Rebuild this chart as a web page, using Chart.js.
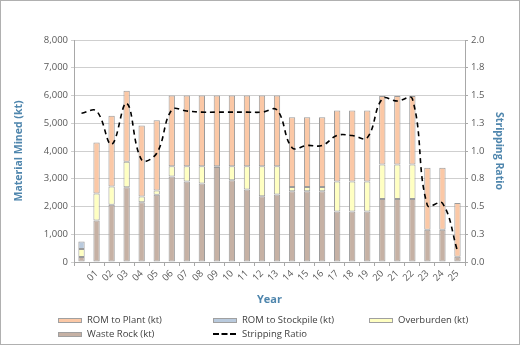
<!DOCTYPE html>
<html>
<head>
<meta charset="utf-8">
<script src="https://cdn.jsdelivr.net/npm/chart.js@4/dist/chart.umd.min.js"></script>
<style>
  body { margin: 0; background: #fff; }
  #wrap { position: relative; width: 520px; height: 345px; box-sizing: border-box; border: 1px solid #b0b0b0; font-family: "Open Sans", sans-serif; }
  #chart { position: absolute; left: 0; top: 0; }
  .lg { position: absolute; font-size: 9.5px; color: #404040; line-height: 12px; white-space: nowrap; }
  .lg .box { position: absolute; left: 0; top: 4px; width: 24px; height: 5px; box-sizing: border-box; border: 1px solid #a0a0a0; }
  .lg .dash { position: absolute; left: 0; top: 5px; width: 23px; height: 0; border-top: 2px dashed #000; }
  .lg span.t { position: absolute; left: 29px; top: 0; }
</style>
</head>
<body>
<div id="wrap">
  <canvas id="chart" width="520" height="345"></canvas>
</div>
<script>
// year labels (first column is pre-production, no label)
let years = ["", "01", "02", "03", "04", "05", "06", "07", "08", "09", "10", "11", "12", "13",
  "14", "15", "16", "17", "18", "19", "20", "21", "22", "23", "24", "25"];

let wasteRock = [180, 1500, 2060, 2690, 2150, 2420, 3080, 2900, 2830, 3420, 2950, 2610, 2370, 2430,
  2550, 2550, 2550, 1820, 1820, 1820, 2270, 2270, 2270, 1160, 1160, 190];
let overburden = [290, 970, 660, 920, 210, 160, 370, 550, 620, 30, 500, 840, 1080, 1020,
  150, 150, 150, 1080, 1080, 1080, 1240, 1240, 1240, 0, 0, 0];
let romStockpile = [265, 0, 0, 0, 0, 0, 0, 0, 0, 0, 0, 0, 0, 0,
  0, 0, 0, 0, 0, 0, 0, 0, 0, 0, 0, 0];
let romPlant = [0, 1840, 2550, 2560, 2560, 2530, 2550, 2550, 2550, 2550, 2550, 2550, 2550, 2550,
  2520, 2520, 2520, 2560, 2560, 2560, 2470, 2470, 2470, 2240, 2240, 1940];
let strippingRatio = [1.34, 1.36, 1.06, 1.43, 0.92, 0.98, 1.37, 1.36, 1.35, 1.35, 1.35, 1.35, 1.35, 1.37,
  1.03, 1.05, 1.05, 1.14, 1.14, 1.12, 1.47, 1.45, 1.47, 0.51, 0.53, 0.10];

let leftTicks = [0, 8000, 1000];
let rightTicks = [0, 2, 0.25];

const titleBlue = "#4f86ad";
const textGrey = "#595959";
const barEdge = "#9a9a9a";

function barSet(label, data, color) {
  return {
    type: "bar",
    label: label,
    data: data.map(v => v === 0 ? null : v), // empty segments get no outline
    backgroundColor: color,
    borderColor: barEdge,
    borderWidth: 1,
    borderSkipped: false,
    yAxisID: "y",
    stack: "mined",
    categoryPercentage: 1,
    barPercentage: 0.42,
    order: 2
  };
}

const datasets = [
  barSet("Waste Rock (kt)", wasteRock, "#c6b1a4"),
  barSet("Overburden (kt)", overburden, "#ffffc2"),
  barSet("ROM to Stockpile (kt)", romStockpile, "#b9cadd"),
  barSet("ROM to Plant (kt)", romPlant, "#fbc8a6"),
  {
    type: "line",
    label: "Stripping Ratio",
    data: strippingRatio,
    borderColor: "#000",
    borderWidth: 1.6,
    borderDash: [5, 4],
    pointRadius: 0,
    fill: false,
    tension: 0.4,
    yAxisID: "y2",
    order: 1
  }
];

let chart = new Chart(document.getElementById("chart"), {
  data: { labels: years, datasets: datasets },
  options: {
    responsive: false,
    devicePixelRatio: 1,
    animation: false,
    layout: { padding: { top: 39, bottom: 40, left: 12, right: 16 } },
    plugins: { legend: { display: false }, tooltip: { enabled: false } },
    font: { family: "'Open Sans', sans-serif" },
    scales: {
      x: {
        stacked: true,
        grid: { display: true, drawOnChartArea: false, drawTicks: true, tickLength: 4, color: "#a8a8a8", offset: true },
        border: { color: "#a8a8a8" },
        ticks: { color: textGrey, font: { size: 9.5 }, minRotation: 45, maxRotation: 45, autoSkip: false, padding: 2 },
        title: { display: true, text: "Year", color: titleBlue, font: { size: 11, weight: "bold" }, padding: 0 },
        afterFit: (s) => { s.height = 44; }
      },
      y: {
        stacked: true,
        position: "left",
        min: leftTicks[0],
        max: leftTicks[1],
        grid: { color: "#cfcfcf", drawTicks: true, tickLength: 3 },
        border: { color: "#a8a8a8" },
        ticks: {
          stepSize: leftTicks[2],
          color: textGrey,
          font: { size: 9.5 },
          padding: 3,
          callback: (v) => v.toLocaleString("en-US")
        },
        title: { display: true, text: "Material Mined (kt)", color: titleBlue, font: { size: 10.5, weight: "bold" }, padding: 0 },
        afterFit: (s) => { s.width = 61; }
      },
      y2: {
        position: "right",
        min: rightTicks[0],
        max: rightTicks[1],
        grid: { drawOnChartArea: false, drawTicks: true, tickLength: 3, color: "#a8a8a8" },
        border: { color: "#a8a8a8" },
        ticks: {
          stepSize: rightTicks[2],
          color: textGrey,
          font: { size: 9.5 },
          padding: 3,
          callback: (v) => v.toFixed(1)
        },
        title: { display: true, text: "Stripping Ratio", color: titleBlue, font: { size: 10.5, weight: "bold" }, padding: 0 },
        afterFit: (s) => { s.width = 40; }
      }
    }
  }
});

// legend, laid out in a 3 column grid like the original
let legendOrder = ["ROM to Plant (kt)", "ROM to Stockpile (kt)", "Overburden (kt)", "Waste Rock (kt)", "Stripping Ratio"];
let colX = [57, 212, 368];
let rowY = [313, 327];
let wrap = document.getElementById("wrap");
legendOrder.forEach((name, i) => {
  let ds = chart.data.datasets.find(d => d.label === name);
  let item = document.createElement("div");
  item.className = "lg";
  item.style.left = colX[i % 3] + "px";
  item.style.top = rowY[Math.floor(i / 3)] + "px";
  let mark = document.createElement("div");
  if (ds.type === "line") {
    mark.className = "dash";
  } else {
    mark.className = "box";
    mark.style.background = ds.backgroundColor;
  }
  let txt = document.createElement("span");
  txt.className = "t";
  txt.textContent = name;
  item.appendChild(mark);
  item.appendChild(txt);
  wrap.appendChild(item);
});
</script>
</body>
</html>
